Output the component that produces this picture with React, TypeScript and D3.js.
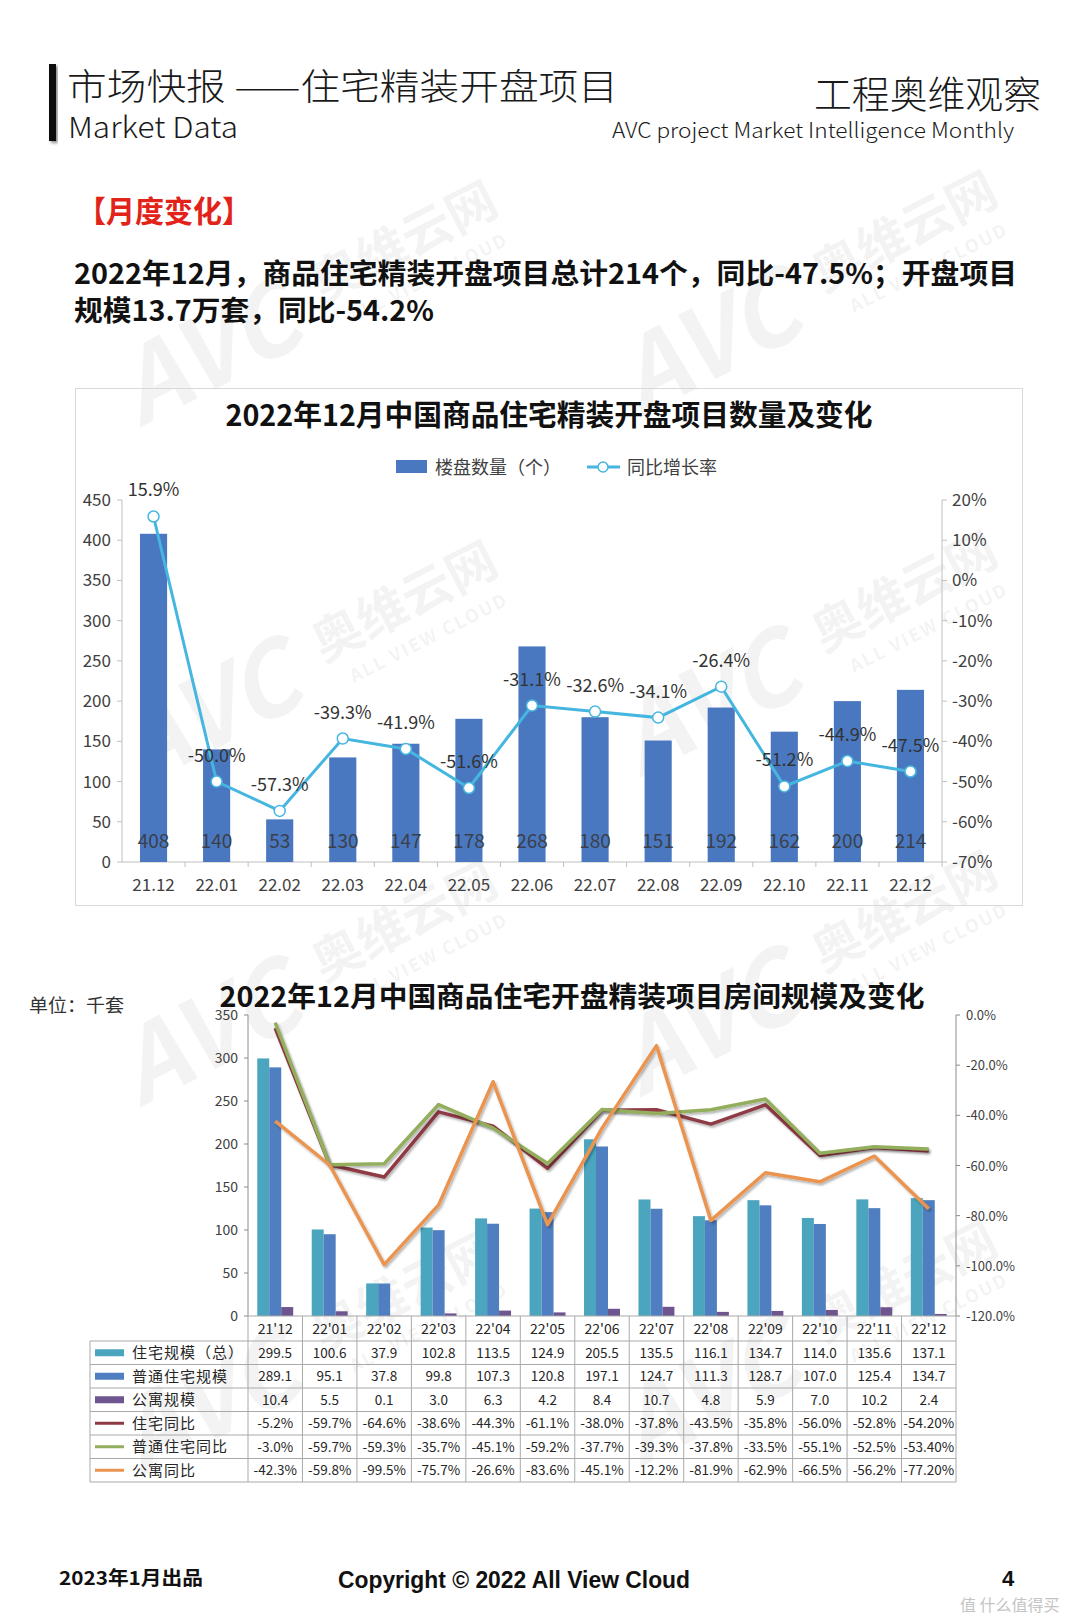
import * as d3 from 'd3';

// chart 1: project count + YoY
const months = ['21.12', '22.01', '22.02', '22.03', '22.04', '22.05', '22.06', '22.07', '22.08', '22.09', '22.10', '22.11', '22.12'];
const projectCounts = [408, 140, 53, 130, 147, 178, 268, 180, 151, 192, 162, 200, 214];
const projectYoy = [15.9, -50.0, -57.3, -39.3, -41.9, -51.6, -31.1, -32.6, -34.1, -26.4, -51.2, -44.9, -47.5];
const countTicks = [0, 50, 100, 150, 200, 250, 300, 350, 400, 450];
const yoyTicks = [20, 10, 0, -10, -20, -30, -40, -50, -60, -70];

// chart 2: room scale (thousand units) + YoY
const months2 = ["21'12", "22'01", "22'02", "22'03", "22'04", "22'05", "22'06", "22'07", "22'08", "22'09", "22'10", "22'11", "22'12"];
const scaleTotal = [299.5, 100.6, 37.9, 102.8, 113.5, 124.9, 205.5, 135.5, 116.1, 134.7, 114.0, 135.6, 137.1];
const scaleOrdinary = [289.1, 95.1, 37.8, 99.8, 107.3, 120.8, 197.1, 124.7, 111.3, 128.7, 107.0, 125.4, 134.7];
const scaleApartment = [10.4, 5.5, 0.1, 3.0, 6.3, 4.2, 8.4, 10.7, 4.8, 5.9, 7.0, 10.2, 2.4];
const yoyTotal = [-5.2, -59.7, -64.6, -38.6, -44.3, -61.1, -38.0, -37.8, -43.5, -35.8, -56.0, -52.8, -54.2];
const yoyOrdinary = [-3.0, -59.7, -59.3, -35.7, -45.1, -59.2, -37.7, -39.3, -37.8, -33.5, -55.1, -52.5, -53.4];
const yoyApartment = [-42.3, -59.8, -99.5, -75.7, -26.6, -83.6, -45.1, -12.2, -81.9, -62.9, -66.5, -56.2, -77.2];
const pctDigits = [1, 1, 1, 1, 1, 1, 1, 1, 1, 1, 1, 1, 2];
const scaleTicks = [0, 50, 100, 150, 200, 250, 300, 350];
const yoy2Ticks = [0, -20, -40, -60, -80, -100, -120];

const CJK = '"Noto Sans CJK SC", "Noto Sans", sans-serif';
const BAR1 = '#4A78C0';
const LINE1 = '#45B6E0';
const TEAL = '#4BA5BE';
const BLUE = '#4F7FC0';
const PURPLE = '#6F558F';
const RED = '#8E3A44';
const GREEN = '#93AE5C';
const ORANGE = '#EA9450';

// faint "AVC 奥维云网" watermark, same as the page background in the source
function Watermark({ x, y }: { x: number; y: number }) {
  return (
    <g transform={`translate(${x},${y}) rotate(-27)`} opacity={0.045} fontFamily={CJK} fill="#000">
      <text x={-160} y={28} fontSize={100} fontWeight={700} fontStyle="italic">AVC</text>
      <text x={60} y={0} fontSize={50} fontWeight={700}>奥维云网</text>
      <text x={78} y={32} fontSize={18} fontWeight={700} letterSpacing={2}>ALL VIEW CLOUD</text>
    </g>
  );
}

export default function App() {
  // ---------- chart 1 ----------
  const x1 = d3.scaleBand().domain(months).range([122, 942]).paddingInner(0.57).paddingOuter(0.285);
  const step1 = x1.step();
  const yL1 = d3.scaleLinear().domain([0, 450]).range([862, 500]);
  const yR1 = d3.scaleLinear().domain([-70, 20]).range([862, 500]);
  const cx1 = (i: number) => (x1(months[i]) ?? 0) + x1.bandwidth() / 2;
  const line1 = d3.line<number>().x((_, i) => cx1(i)).y(d => yR1(d));

  // ---------- chart 2 ----------
  const x2 = d3.scaleBand().domain(months2).range([248, 956]).paddingInner(0.34).paddingOuter(0.17);
  const step2 = x2.step();
  const x2Left = 248;
  const series2 = [
    { key: 'total', values: scaleTotal, color: TEAL },
    { key: 'ordinary', values: scaleOrdinary, color: BLUE },
    { key: 'apt', values: scaleApartment, color: PURPLE },
  ];
  const xs = d3.scaleBand().domain(series2.map(s => s.key)).range([0, x2.bandwidth()]);
  const yL2 = d3.scaleLinear().domain([0, 350]).range([1316, 1015]);
  const yR2 = d3.scaleLinear().domain([-120, 0]).range([1316, 1015]);
  const cx2 = (i: number) => x2Left + step2 * (i + 0.5);
  const line2 = d3.line<number>().x((_, i) => cx2(i)).y(d => yR2(d));
  const lines2 = [
    { values: yoyTotal, color: RED },
    { values: yoyOrdinary, color: GREEN },
    { values: yoyApartment, color: ORANGE },
  ];

  const tableTop = 1316;
  const headH = 25;
  const rowH = 23.5;
  const tableLeft = 90;
  const tableRows = [
    { label: '住宅规模（总）', kind: 'bar', color: TEAL, cells: scaleTotal.map(v => v.toFixed(1)) },
    { label: '普通住宅规模', kind: 'bar', color: BLUE, cells: scaleOrdinary.map(v => v.toFixed(1)) },
    { label: '公寓规模', kind: 'bar', color: PURPLE, cells: scaleApartment.map(v => v.toFixed(1)) },
    { label: '住宅同比', kind: 'line', color: RED, cells: yoyTotal.map((v, i) => v.toFixed(pctDigits[i]) + '%') },
    { label: '普通住宅同比', kind: 'line', color: GREEN, cells: yoyOrdinary.map((v, i) => v.toFixed(pctDigits[i]) + '%') },
    { label: '公寓同比', kind: 'line', color: ORANGE, cells: yoyApartment.map((v, i) => v.toFixed(pctDigits[i]) + '%') },
  ];
  const tableBottom = tableTop + headH + rowH * tableRows.length;
  const gridColor = '#a9a9a9';

  return (
    <div style={{ position: 'absolute', left: 0, top: 0, width: 1080, height: 1619, background: '#fff' }}>
      <svg width={1080} height={1619} style={{ display: 'block' }} fontFamily={CJK}>
        <defs>
          <filter id="lineShadow" x="-5%" y="-5%" width="110%" height="120%">
            <feDropShadow dx={1.5} dy={2} stdDeviation={1.2} floodColor="#000" floodOpacity={0.3} />
          </filter>
          <filter id="barShadow" x="-20%" y="-20%" width="140%" height="140%">
            <feDropShadow dx={2} dy={2} stdDeviation={1.5} floodColor="#000" floodOpacity={0.45} />
          </filter>
        </defs>
        <rect width={1080} height={1619} fill="#fff" />

        {/* watermarks */}
        {[[270, 330], [770, 320], [270, 690], [770, 680], [270, 1010], [770, 1000], [270, 1380], [770, 1370]].map(([wx, wy], i) => (
          <Watermark key={i} x={wx} y={wy} />
        ))}

        {/* header */}
        <rect x={49} y={64} width={7} height={77} fill="#111" filter="url(#barShadow)" />
        <text x={67} y={100} fontSize={36} fontWeight={300} fill="#1a1a1a" textLength={551} lengthAdjust="spacingAndGlyphs">市场快报 ——住宅精装开盘项目</text>
        <text x={68} y={138} fontSize={29} fontWeight={300} fill="#1a1a1a" textLength={170} lengthAdjust="spacingAndGlyphs">Market Data</text>
        <text x={814} y={108} fontSize={38} fontWeight={300} fill="#1a1a1a" textLength={227} lengthAdjust="spacingAndGlyphs">工程奥维观察</text>
        <text x={612} y={138} fontSize={21} fontWeight={300} fill="#1a1a1a" textLength={402} lengthAdjust="spacingAndGlyphs">AVC  project Market Intelligence Monthly</text>

        <text x={77} y={222} fontSize={30} fontWeight={700} fill="#E2231A" textLength={174} lengthAdjust="spacingAndGlyphs">【月度变化】</text>
        <text x={74} y={284} fontSize={28} fontWeight={700} fill="#111" textLength={943} lengthAdjust="spacingAndGlyphs">2022年12月，商品住宅精装开盘项目总计214个，同比-47.5%；开盘项目</text>
        <text x={74} y={321} fontSize={28} fontWeight={700} fill="#111" textLength={360} lengthAdjust="spacingAndGlyphs">规模13.7万套，同比-54.2%</text>

        {/* ---------- chart 1 ---------- */}
        <rect x={75.5} y={388.5} width={947} height={517} fill="none" stroke="#d9d9d9" />
        <text x={549} y={426} textAnchor="middle" fontSize={29} fontWeight={700} fill="#111" textLength={647} lengthAdjust="spacingAndGlyphs">2022年12月中国商品住宅精装开盘项目数量及变化</text>
        <rect x={396} y={460} width={31} height={13} fill={BAR1} />
        <text x={435} y={474} fontSize={18} fill="#404040">楼盘数量（个）</text>
        <line x1={587} x2={620} y1={467} y2={467} stroke={LINE1} strokeWidth={3} />
        <circle cx={603} cy={467} r={5} fill="#fff" stroke={LINE1} strokeWidth={1.5} />
        <text x={627} y={474} fontSize={18} fill="#404040">同比增长率</text>

        {/* axes */}
        <line x1={122} x2={122} y1={500} y2={862} stroke="#bfbfbf" />
        <line x1={942} x2={942} y1={500} y2={862} stroke="#bfbfbf" />
        <line x1={122} x2={942} y1={862} y2={862} stroke="#bfbfbf" />
        {countTicks.map(t => (
          <g key={t}>
            <line x1={117} x2={122} y1={yL1(t)} y2={yL1(t)} stroke="#bfbfbf" />
            <text x={111} y={yL1(t) + 6} textAnchor="end" fontSize={17} fill="#404040">{t}</text>
          </g>
        ))}
        {yoyTicks.map(t => (
          <g key={t}>
            <line x1={942} x2={947} y1={yR1(t)} y2={yR1(t)} stroke="#bfbfbf" />
            <text x={952} y={yR1(t) + 6} fontSize={17} fill="#404040">{t}%</text>
          </g>
        ))}
        {months.map((m, i) => (
          <g key={m}>
            <line x1={122 + step1 * (i + 1)} x2={122 + step1 * (i + 1)} y1={862} y2={867} stroke="#bfbfbf" />
            <text x={cx1(i)} y={891} textAnchor="middle" fontSize={17} fill="#404040">{m}</text>
          </g>
        ))}

        {/* bars */}
        {projectCounts.map((v, i) => (
          <rect key={i} x={x1(months[i])} y={yL1(v)} width={x1.bandwidth()} height={862 - yL1(v)} fill={BAR1} />
        ))}
        {projectCounts.map((v, i) => (
          <text key={i} x={cx1(i)} y={848} textAnchor="middle" fontSize={19} fill="#3a3f4a">{v}</text>
        ))}

        {/* yoy line */}
        <path d={line1(projectYoy) ?? ''} fill="none" stroke={LINE1} strokeWidth={3} />
        {projectYoy.map((v, i) => (
          <circle key={i} cx={cx1(i)} cy={yR1(v)} r={5.5} fill="#fff" stroke={LINE1} strokeWidth={1.5} />
        ))}
        {projectYoy.map((v, i) => (
          <text key={i} x={cx1(i)} y={yR1(v) - 20} textAnchor="middle" fontSize={18} fill="#333">{v.toFixed(1)}%</text>
        ))}

        {/* ---------- chart 2 ---------- */}
        <text x={572} y={1007} textAnchor="middle" fontSize={28} fontWeight={700} fill="#111" textLength={705} lengthAdjust="spacingAndGlyphs">2022年12月中国商品住宅开盘精装项目房间规模及变化</text>
        <text x={29} y={1012} fontSize={18} fill="#333" textLength={95} lengthAdjust="spacingAndGlyphs">单位：千套</text>

        <line x1={248} x2={248} y1={1015} y2={1316} stroke="#8c8c8c" />
        <line x1={956} x2={956} y1={1015} y2={1316} stroke="#8c8c8c" />
        {scaleTicks.map(t => (
          <g key={t}>
            <line x1={244} x2={248} y1={yL2(t)} y2={yL2(t)} stroke="#8c8c8c" />
            <text x={238} y={yL2(t) + 5} textAnchor="end" fontSize={14} fill="#404040">{t}</text>
          </g>
        ))}
        {yoy2Ticks.map(t => (
          <g key={t}>
            <line x1={956} x2={960} y1={yR2(t)} y2={yR2(t)} stroke="#8c8c8c" />
            <text x={966} y={yR2(t) + 5} fontSize={13} fill="#404040">{t.toFixed(1)}%</text>
          </g>
        ))}

        {/* bars */}
        {series2.map(s => (
          <g key={s.key}>
            {s.values.map((v, i) => (
              <rect key={i} x={(x2(months2[i]) ?? 0) + (xs(s.key) ?? 0)} y={yL2(v)} width={xs.bandwidth()} height={1316 - yL2(v)} fill={s.color} />
            ))}
          </g>
        ))}

        {/* lines */}
        {lines2.map((l, k) => (
          <path key={k} d={line2(l.values) ?? ''} fill="none" stroke={l.color} strokeWidth={3.5} strokeLinejoin="round" filter="url(#lineShadow)" />
        ))}

        {/* data table */}
        <g stroke={gridColor} strokeWidth={1} fill="none">
          <line x1={248} x2={956} y1={tableTop} y2={tableTop} />
          {d3.range(tableRows.length + 1).map(r => (
            <line key={r} x1={tableLeft} x2={956} y1={tableTop + headH + r * rowH} y2={tableTop + headH + r * rowH} />
          ))}
          <line x1={tableLeft} x2={tableLeft} y1={tableTop + headH} y2={tableBottom} />
          {d3.range(months2.length + 1).map(c => (
            <line key={c} x1={x2Left + c * step2} x2={x2Left + c * step2} y1={tableTop} y2={tableBottom} />
          ))}
        </g>
        {months2.map((m, i) => (
          <text key={m} x={cx2(i)} y={tableTop + headH / 2 + 5} textAnchor="middle" fontSize={14} fill="#262626">{m}</text>
        ))}
        {tableRows.map((row, r) => {
          const cy = tableTop + headH + r * rowH + rowH / 2;
          return (
            <g key={row.label}>
              {row.kind === 'bar'
                ? <rect x={95} y={cy - 3.5} width={29} height={7} fill={row.color} />
                : <line x1={95} x2={124} y1={cy} y2={cy} stroke={row.color} strokeWidth={3} />}
              <text x={132} y={cy + 5.5} fontSize={15} fill="#262626" letterSpacing={1}>{row.label}</text>
              {row.cells.map((c, i) => (
                <text key={i} x={cx2(i)} y={cy + 5} textAnchor="middle" fontSize={13.5} fill="#262626">{c}</text>
              ))}
            </g>
          );
        })}

        {/* footer */}
        <text x={59} y={1585} fontSize={19} fontWeight={700} fill="#111" textLength={144} lengthAdjust="spacingAndGlyphs">2023年1月出品</text>
        <text x={338} y={1588} fontSize={24} fontWeight={700} fill="#111" fontFamily='"Liberation Sans Narrow", "Liberation Sans", Arial, sans-serif' textLength={352} lengthAdjust="spacingAndGlyphs">Copyright © 2022  All View Cloud</text>
        <text x={1002} y={1586} fontSize={22} fontWeight={700} fill="#111" fontFamily='"Liberation Sans", Arial, sans-serif'>4</text>
        <text x={960} y={1611} fontSize={16} fill="#c4c4c4">值 什么值得买</text>
      </svg>
    </div>
  );
}
